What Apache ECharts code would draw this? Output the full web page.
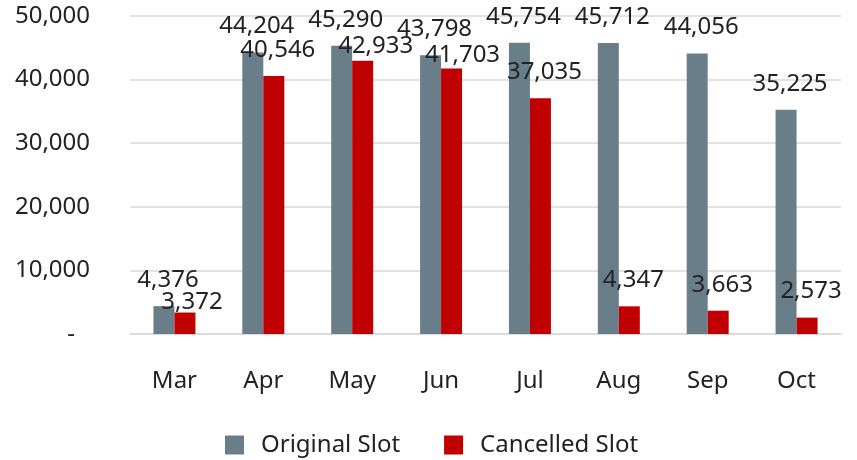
<!DOCTYPE html>
<html lang="en" style="height: 100%">
<head>
    <meta charset="UTF-8">
    <title>Original vs Cancelled Slot</title>
    <script src="https://cdn.jsdelivr.net/npm/echarts@6/dist/echarts.min.js"></script>
</head>
<body style="height: 100%; margin: 0">
<div id="main" style="width: 857px; height: 460px"></div>
<script>
    var months = ['Mar', 'Apr', 'May', 'Jun', 'Jul', 'Aug', 'Sep', 'Oct'];
    var originalSlot = [4376, 44204, 45290, 43798, 45754, 45712, 44056, 35225];
    var cancelledSlot = [3372, 40546, 42933, 41703, 37035, 4347, 3663, 2573];

    // hand-moved labels in the original (x, y shift in px)
    var cancelledLabelShift = [[3, 16], [0, 0], [9, 11], [7, 13], [0, 0], [0, 0], [0, 0], [0, 0]];

    var font = '"Noto Sans", sans-serif';
    var fontSize = 24;

    function fmt(v) {
        return v.toString().replace(/\B(?=(\d{3})+(?!\d))/g, ',');
    }

    var cancelledData = cancelledSlot.map(function (v, i) {
        var s = cancelledLabelShift[i];
        return {value: v, label: {offset: [4 + s[0], s[1]]}};
    });

    var myoption = {
        backgroundColor: '#fff',
        textStyle: {fontFamily: font},
        grid: {left: 130, right: 16, top: 15.7, bottom: 126},
        legend: {
            bottom: 3,
            left: 225,
            padding: 0,
            icon: 'rect',
            itemWidth: 19,
            itemHeight: 19,
            itemGap: 44,
            textStyle: {
                fontFamily: font,
                fontSize: fontSize,
                color: '#222',
                padding: [0, 0, 0, 12]
            },
            data: ['Original Slot', 'Cancelled Slot']
        },
        xAxis: {
            type: 'category',
            data: months,
            axisLine: {lineStyle: {color: '#d9d9d9', width: 1.5}},
            axisTick: {show: false},
            axisLabel: {
                margin: 35,
                fontFamily: font,
                fontSize: fontSize,
                color: '#222'
            }
        },
        yAxis: {
            type: 'value',
            min: 0,
            max: 50000,
            interval: 10000,
            axisLine: {show: false},
            axisTick: {show: false},
            splitLine: {lineStyle: {color: '#d9d9d9', width: 1.5}},
            axisLabel: {
                margin: 40,
                fontFamily: font,
                fontSize: fontSize,
                color: '#222',
                formatter: function (v) {
                    return v === 0 ? '{z|-}' : fmt(v);
                },
                rich: {
                    z: {fontFamily: font, fontSize: fontSize, color: '#222', padding: [0, 15, 0, 0]}
                }
            }
        },
        series: [{
            name: 'Original Slot',
            type: 'bar',
            barWidth: 21,
            barGap: 0,
            itemStyle: {color: '#6a7e8a'},
            label: {
                show: true,
                position: 'top',
                distance: 14,
                offset: [4, 0],
                fontFamily: font,
                fontSize: fontSize,
                color: '#222',
                formatter: function (p) { return fmt(p.value); }
            },
            data: originalSlot
        }, {
            name: 'Cancelled Slot',
            type: 'bar',
            barWidth: 21,
            barGap: 0,
            itemStyle: {color: '#c00000'},
            label: {
                show: true,
                position: 'top',
                distance: 14,
                fontFamily: font,
                fontSize: fontSize,
                color: '#222',
                formatter: function (p) { return fmt(p.value); }
            },
            data: cancelledData
        }]
    };
    var myChart = echarts.init(document.getElementById('main'));
    myChart.setOption(myoption);
</script>
</body>
</html>
